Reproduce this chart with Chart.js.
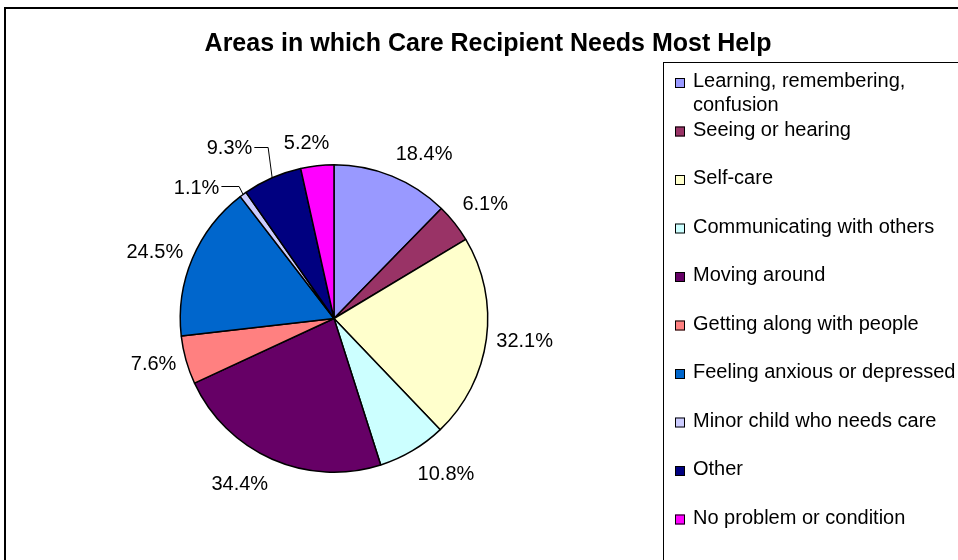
<!DOCTYPE html>
<html>
<head>
<meta charset="utf-8">
<script src="https://cdn.jsdelivr.net/npm/chart.js@4/dist/chart.umd.min.js"></script>
<style>
  html, body { margin: 0; padding: 0; background: #ffffff; }
  #wrap { width: 958px; height: 560px; }
</style>
</head>
<body>
<div id="wrap"><canvas id="c" width="958" height="560"></canvas></div>
<script>
// ---- data ----
const chartTitle = 'Areas in which Care Recipient Needs Most Help';
const categories = [
  'Learning, remembering, confusion',
  'Seeing or hearing',
  'Self-care',
  'Communicating with others',
  'Moving around',
  'Getting along with people',
  'Feeling anxious or depressed',
  'Minor child who needs care',
  'Other',
  'No problem or condition'
];
const percentValues = [18.4, 6.1, 32.1, 10.8, 34.4, 7.6, 24.5, 1.1, 9.3, 5.2];
const sliceColors = ['#9999FF', '#993366', '#FFFFCC', '#CCFFFF', '#660066',
                     '#FF8080', '#0066CC', '#CCCCFF', '#000080', '#FF00FF'];

const FONT = '"Liberation Sans", Arial, Helvetica, sans-serif';

function clamp(v, a, b) { return Math.max(a, Math.min(b, v)); }

const excelDecor = {
  id: 'excelDecor',
  beforeDraw(chart) {
    const ctx = chart.ctx;
    ctx.save();
    ctx.fillStyle = '#ffffff';
    ctx.fillRect(0, 0, chart.width, chart.height);
    ctx.restore();
  },
  afterDraw(chart, args, opts) {
    const ctx = chart.ctx;
    ctx.save();
    // outer frame
    ctx.strokeStyle = '#000';
    ctx.lineWidth = 2;
    ctx.strokeRect(5, 8, 2000, 2000);

    // title
    ctx.fillStyle = '#000';
    ctx.font = 'bold 25px ' + FONT;
    ctx.textAlign = 'center';
    ctx.textBaseline = 'alphabetic';
    ctx.fillText(chartTitle, 488, 51);

    // legend box
    ctx.lineWidth = 1;
    ctx.strokeRect(663.5, 62.5, 2000, 2000);
    ctx.font = '20px ' + FONT;
    ctx.textAlign = 'left';
    const labels = chart.data.labels;
    const colors = chart.data.datasets[0].backgroundColor;
    for (let i = 0; i < labels.length; i++) {
      const capCenter = 80 + 48.5 * i;
      const words = labels[i].split(' ');
      const lines = [];
      let cur = '';
      for (const w of words) {
        const t = cur ? cur + ' ' + w : w;
        if (ctx.measureText(t).width > 285 && cur) { lines.push(cur); cur = w; }
        else cur = t;
      }
      if (cur) lines.push(cur);
      ctx.fillStyle = colors[i];
      ctx.fillRect(675, capCenter - 2, 10, 10);
      ctx.strokeStyle = '#000';
      ctx.strokeRect(675.5, capCenter - 1.5, 9, 9);
      ctx.fillStyle = '#000';
      lines.forEach((ln, k) => {
        ctx.fillText(ln, 693, capCenter + 7 + 24 * k);
      });
    }

    // data labels
    const meta = chart.getDatasetMeta(0);
    const data = chart.data.datasets[0].data;
    const shifts = opts.labelShift || {};
    ctx.font = '20px ' + FONT;
    ctx.textAlign = 'center';
    ctx.fillStyle = '#000';
    ctx.strokeStyle = '#000';
    ctx.lineWidth = 1;
    meta.data.forEach((arc, i) => {
      const p = arc.getProps(['x', 'y', 'startAngle', 'endAngle', 'outerRadius'], true);
      const mid = (p.startAngle + p.endAngle) / 2;
      const ux = Math.cos(mid), uy = Math.sin(mid);
      const rr = p.outerRadius + 10;
      const ax = p.x + rr * ux, ay = p.y + rr * uy;
      const txt = data[i].toFixed(1) + '%';
      const w = ctx.measureText(txt).width;
      const sx = Math.sign(ux) * clamp(Math.abs(ux) / 0.26, 0, 1);
      const sy = Math.sign(uy) * clamp((Math.abs(uy) - 0.3) / 0.3, 0, 1);
      let cx = ax + sx * w / 2;
      let cy = ay + sy * 14;
      const sh = shifts[i];
      if (sh) {
        cx += sh[0]; cy += sh[1];
        const px = p.x + p.outerRadius * ux, py = p.y + p.outerRadius * uy;
        const right = cx + w / 2;
        ctx.beginPath();
        ctx.moveTo(right + 2, Math.round(cy) + 0.5);
        ctx.lineTo(px - 4, Math.round(cy) + 0.5);
        ctx.lineTo(px, py);
        ctx.stroke();
      }
      ctx.fillText(txt, cx, cy + 7.2);
    });
    ctx.restore();
  }
};

new Chart(document.getElementById('c'), {
  type: 'pie',
  data: {
    labels: categories,
    datasets: [{
      data: percentValues,
      backgroundColor: sliceColors,
      borderColor: '#000000',
      borderWidth: 1.5
    }]
  },
  options: {
    responsive: false,
    animation: false,
    layout: { padding: { left: 20, right: 310, top: 164, bottom: 87 } },
    plugins: {
      legend: { display: false },
      tooltip: { enabled: false },
      title: { display: false },
      excelDecor: { labelShift: { 7: [-17.8, 14], 8: [-15.8, -7.6] } }
    }
  },
  plugins: [excelDecor]
});
</script>
</body>
</html>
